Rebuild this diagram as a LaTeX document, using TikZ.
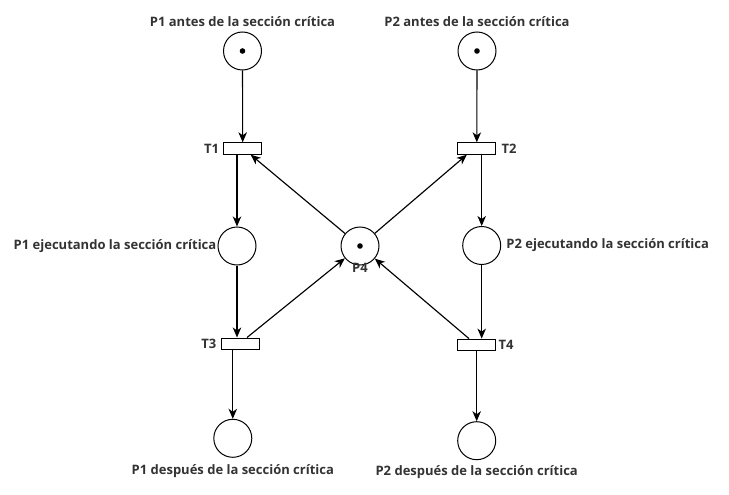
\documentclass[tikz,border=0pt]{standalone}
\usepackage{fontspec}
\setmainfont{Open Sans}
\usetikzlibrary{arrows.meta,positioning}
\definecolor{textgray}{HTML}{333333}

\begin{document}
\begin{tikzpicture}[x=1pt, y=-1pt, node distance=3pt,
    place/.style={circle, draw, line width=1pt, minimum size=38pt, inner sep=0pt},
    trans/.style={rectangle, draw, line width=1pt, minimum width=38pt, minimum height=11.4pt, inner sep=0pt},
    token/.style={circle, fill, minimum size=5.6pt, inner sep=0pt},
    lbl/.style={text=textgray, font=\bfseries\fontsize{13}{15}\selectfont, inner sep=1pt},
    flow/.style={draw, line width=1.15pt, -{Stealth[length=10pt,width=8.5pt,inset=3pt]}}]
      \useasboundingbox (0,0) rectangle (729,495);

      \node[place] (P1)   at (242.5,51)  {};
      \node[place] (P2)   at (477,51)    {};
      \node[trans] (T1)   at (242.7,148.5) {};
      \node[trans] (T2)   at (476.8,148.5) {};
      \node[place] (P1ex) at (237,246)   {};
      \node[place] (P4)   at (360,246)   {};
      \node[place] (P2ex) at (481.7,245.5) {};
      \node[trans] (T3)   at (240,343.7) {};
      \node[trans] (T4)   at (476,344.8) {};
      \node[place] (P1af) at (232.8,438.3) {};
      \node[place] (P2af) at (476.7,440.7) {};

      % tokens
      \node[token] (tok1) at (P1) {};
      \node[token] (tok2) at (P2) {};
      \node[token] (tok4) at (P4) {};

      \node[lbl, above=3.5pt of P1]   (P1txt)   {P1 antes de la sección crítica};
      \node[lbl, above=3.5pt of P2]   (P2txt)   {P2 antes de la sección crítica};
      \node[lbl, left=3pt of T1]    (T1txt)   {T1};
      \node[lbl, right=4pt of T2]   (T2txt)   {T2};
      \node[lbl, left=0pt of P1ex]  (P1extxt) {P1 ejecutando la sección crítica};
      \node[lbl, right=4pt of P2ex] (P2extxt) {P2 ejecutando la sección crítica};
      \node[lbl, below=-3pt of P4]  (P4txt)   {P4};
      \node[lbl, left=3pt of T3]    (T3txt)   {T3};
      \node[lbl, right=2pt of T4]   (T4txt)   {T4};
      \node[lbl, below=5.5pt of P1af] (P1aftxt) {P1 después de la sección crítica};
      \node[lbl, below=4pt of P2af] (P2aftxt) {P2 después de la sección crítica};

      \draw[flow] (P1) -- (T1);
      \draw[flow] (T1.south -| P1ex) -- (P1ex);
      \draw[flow] (P1ex) -- (P1ex |- T3.north);
      \draw[flow] (T3.south -| P1af) -- (P1af);

      \draw[flow] (P2) -- (T2);
      \draw[flow] (T2.south -| P2ex) -- (P2ex);
      \draw[flow] (P2ex) -- (P2ex |- T4.north);
      \draw[flow] (T4.south -| P2af) -- (P2af);

      \draw[flow] (P4) -- ([xshift=8pt]T1.south);
      \draw[flow] (P4) -- ([xshift=-10pt]T2.south);
      \draw[flow] ([xshift=7pt]T3.north) -- (P4);
      \draw[flow] ([xshift=-7pt]T4.north) -- (P4);
\end{tikzpicture}
\end{document}
